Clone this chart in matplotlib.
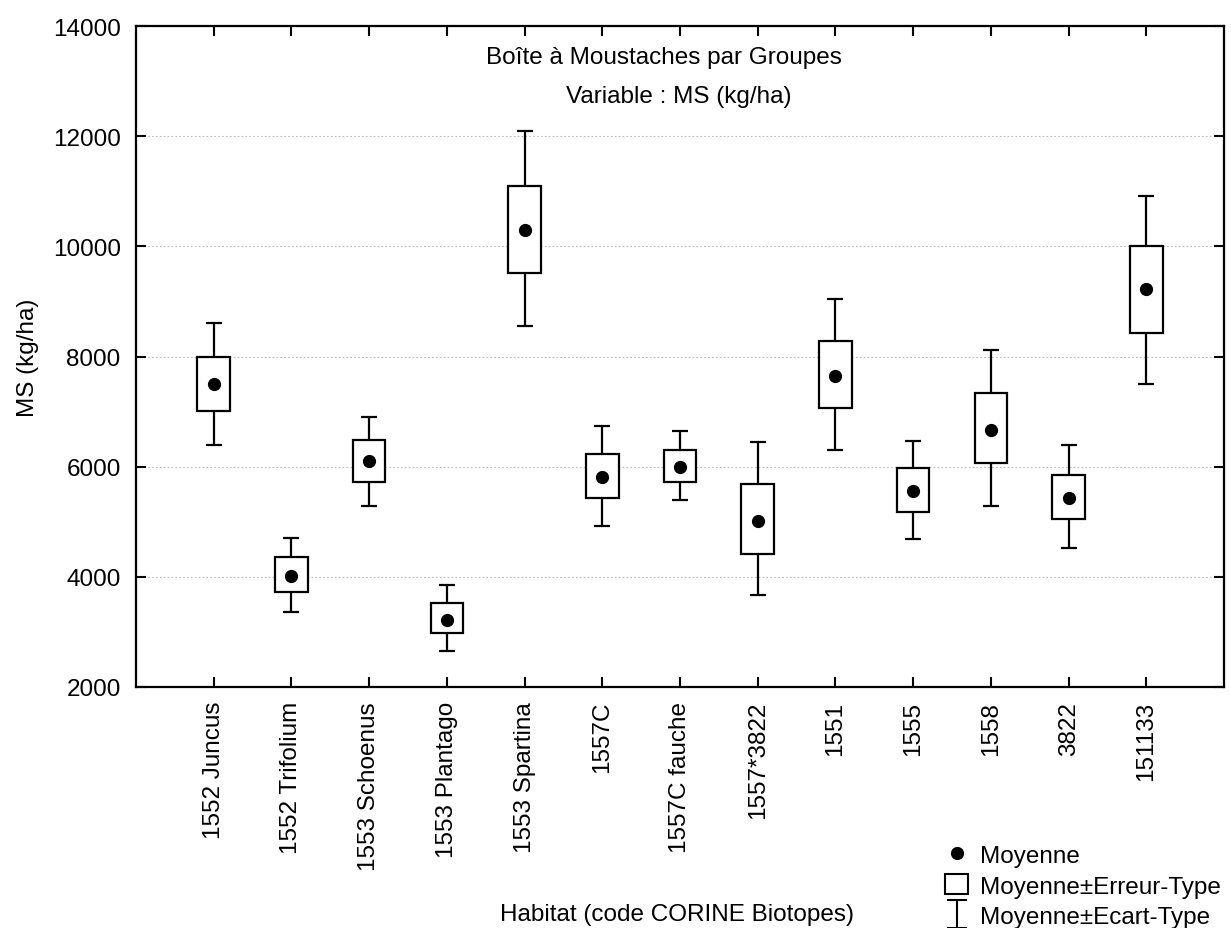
import matplotlib
matplotlib.use("Agg")
import matplotlib.pyplot as plt
from matplotlib.lines import Line2D
from matplotlib.patches import Patch
from matplotlib.path import Path

plt.rcParams['font.family'] = ['Liberation Sans', 'DejaVu Sans']

# values (kg/ha)
habitats = ["1552 Juncus", "1552 Trifolium", "1553 Schoenus", "1553 Plantago",
            "1553 Spartina", "1557C", "1557C fauche", "1557*3822", "1551",
            "1555", "1558", "3822", "151133"]
means = [7509, 4013, 6103, 3218, 10292, 5812, 5994, 5018, 7655, 5558, 6670, 5437, 9221]
se_low = [7018, 3733, 5715, 2976, 9514, 5430, 5721, 4418, 7061, 5182, 6067, 5055, 8433]
se_high = [8000, 4351, 6479, 3521, 11100, 6230, 6297, 5691, 8279, 5970, 7336, 5855, 10000]
sd_low = [6400, 3369, 5285, 2661, 8547, 4921, 5394, 3667, 6297, 4679, 5279, 4523, 7507]
sd_high = [8605, 4709, 6909, 3849, 12102, 6733, 6655, 6442, 9040, 6473, 8127, 6391, 10920]

fs = 17.5
fig = plt.figure(figsize=(12.31, 9.29), dpi=100)
ax = fig.add_axes([136/1231, 1-688/929, (1224-136)/1231, (688-27)/929])

xs = list(range(1, len(habitats) + 1))

# whiskers (mean +/- sd)
yerr = [[m - lo for m, lo in zip(means, sd_low)], [hi - m for m, hi in zip(means, sd_high)]]
ax.errorbar(xs, means, yerr=yerr, fmt='none', ecolor='black', elinewidth=1.6,
            capsize=6, capthick=1.6, zorder=2)

# boxes (mean +/- se)
heights = [hi - lo for lo, hi in zip(se_low, se_high)]
ax.bar(xs, heights, bottom=se_low, width=0.42, facecolor='white', edgecolor='black',
       linewidth=1.6, zorder=3)

ax.plot(xs, means, 'o', color='black', markersize=8.5, zorder=4)

ax.set_xlim(0, 14)
ax.set_ylim(2000, 14000)
ax.set_yticks(range(2000, 14001, 2000))
ax.set_xticks(xs)
ax.set_xticklabels(habitats, rotation=90, fontsize=fs)
ax.tick_params(axis='y', labelsize=fs)
ax.tick_params(direction='in', length=7, width=1.5, top=True, right=True, pad=11)
ax.tick_params(axis='x', pad=10)
ax.yaxis.grid(True, linestyle=(0, (1.5, 2)), color='#bbbbbb', linewidth=0.8)
ax.set_axisbelow(True)
for s in ax.spines.values():
    s.set_linewidth(1.6)

ax.set_ylabel("MS (kg/ha)", fontsize=fs, labelpad=10)
fig.text(677/1231, 1-915/929, "Habitat (code CORINE Biotopes)", fontsize=fs,
         ha='center', va='center')

ax.text(664/1231, 1-58/929, "Boîte à Moustaches par Groupes", fontsize=fs,
        ha='center', va='center', transform=fig.transFigure)
ax.text(679/1231, 1-97/929, "Variable : MS (kg/ha)", fontsize=fs,
        ha='center', va='center', transform=fig.transFigure)

# legend
ibeam = Path([(-0.75, 1), (0.75, 1), (0, 1), (0, -1), (-0.75, -1), (0.75, -1)],
             [Path.MOVETO, Path.LINETO, Path.MOVETO, Path.LINETO, Path.MOVETO, Path.LINETO])
handles = [
    Line2D([], [], marker='o', color='black', linestyle='none', markersize=8.5),
    Patch(facecolor='white', edgecolor='black', linewidth=1.5),
    Line2D([], [], marker=ibeam, color='black', linestyle='none', markersize=20,
           markerfacecolor='none', markeredgewidth=1.5),
]
labels = ["Moyenne", "Moyenne±Erreur-Type", "Moyenne±Ecart-Type"]
fig.legend(handles, labels, loc='upper left', bbox_to_anchor=(945/1231, 1-845/929),
           frameon=False, fontsize=fs, handlelength=0.95, handleheight=0.85,
           handletextpad=0.5, labelspacing=0.3, borderpad=0, borderaxespad=0)

fig.savefig("out.png", dpi=100)
